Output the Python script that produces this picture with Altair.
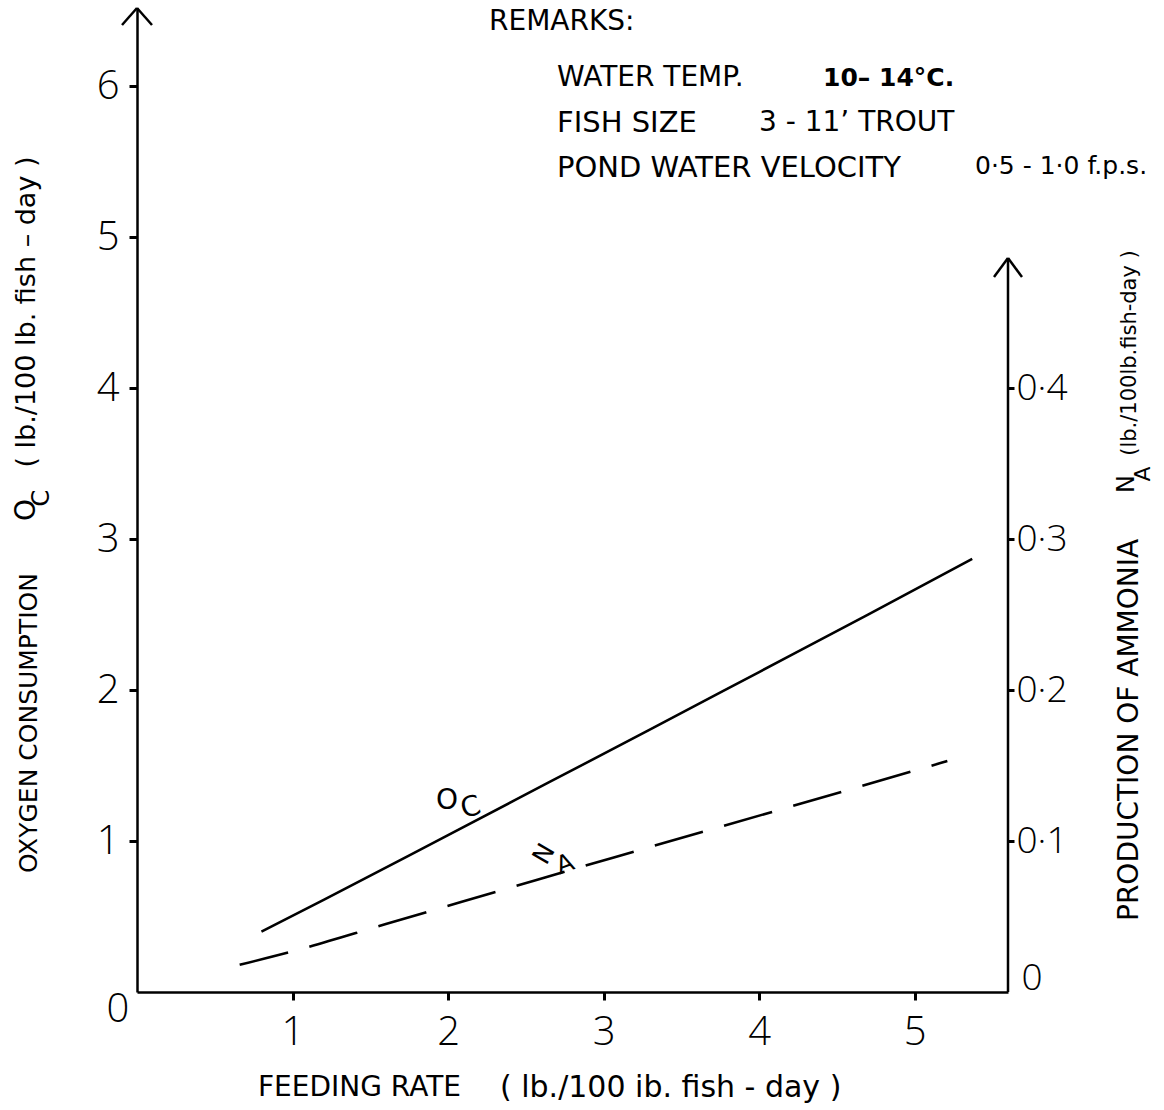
import altair as alt
import pandas as pd

# ---- data ----
feed_oc = [0.8, 1.2, 2.0, 2.65, 3.3, 4.0, 4.7, 5.37]
oxygen = [0.40, 0.61, 1.04, 1.39, 1.74, 2.12, 2.50, 2.87]
feed_na = [0.66, 1.04, 1.6, 2.33, 3.06, 4.14, 5.21]
ammonia = [0.018, 0.028, 0.045, 0.067, 0.089, 0.121, 0.153]

x_ticks = [1, 2, 3, 4, 5]
oc_ticks = [1, 2, 3, 4, 5, 6]
na_ticks = [0.1, 0.2, 0.3, 0.4]

remarks = ["REMARKS:", "WATER TEMP.", "10\u2013 14\u00b0C.", "FISH SIZE", "3 - 11\u2019 TROUT",
           "POND WATER VELOCITY", "0\u00b75 - 1\u00b70 f.p.s."]
x_title = ["FEEDING RATE", "( lb./100 ib. fish - day )"]
left_title = ["OXYGEN CONSUMPTION", "O", "C", "( lb./100 lb. fish \u2013 day )"]
right_title = ["PRODUCTION OF AMMONIA", "N", "A", "(lb./100lb.fish-day )"]

W, H = 871, 984
LET = "DejaVu Sans"
NUM = "Open Sans"

df_oc = pd.DataFrame({"feed": feed_oc, "oc": oxygen})
df_na = pd.DataFrame({"feed": feed_na, "na": ammonia})

x_scale = alt.Scale(domain=[0, 5.6], nice=False, zero=False)
x_axis = alt.Axis(values=x_ticks, title=None, grid=False, tickSize=8, tickWidth=3,
                  domainWidth=2.5, domainColor="black", tickColor="black",
                  labelFontSize=40, labelFont=NUM, labelFontWeight=300,
                  labelPadding=12, labelColor="black", format="d")

oc_line = alt.Chart(df_oc).mark_line(color="black", strokeWidth=2.6, interpolate="monotone").encode(
    x=alt.X("feed:Q", scale=x_scale, axis=x_axis),
    y=alt.Y("oc:Q", scale=alt.Scale(domain=[0, 6.52], nice=False),
            axis=alt.Axis(values=oc_ticks, title=None, grid=False, tickSize=8, tickWidth=3,
                          domainWidth=2.5, domainColor="black", tickColor="black",
                          labelFontSize=40, labelFont=NUM, labelFontWeight=300,
                          labelPadding=10, labelColor="black", format="d")),
)

na_line = alt.Chart(df_na).mark_line(color="black", strokeWidth=2.6, strokeDash=[50, 22],
                                     interpolate="monotone").encode(
    x=alt.X("feed:Q", scale=x_scale, axis=x_axis),
    y=alt.Y("na:Q", scale=alt.Scale(domain=[0, 0.652], nice=False),
            axis=alt.Axis(orient="right", values=na_ticks, title=None, grid=False, domain=False,
                          tickSize=6, tickWidth=3, tickColor="black",
                          labelExpr="replace(format(datum.value, '.1f'), '.', '\u00b7')",
                          labelFontSize=37, labelFont=NUM, labelFontWeight=300,
                          labelPadding=2, labelColor="black")),
)


def rule(x1, y1, x2, y2, w=2.5):
    return alt.Chart(pd.DataFrame({"k": [0]})).mark_rule(color="black", strokeWidth=w).encode(
        x=alt.value(x1), y=alt.value(y1), x2=alt.value(x2), y2=alt.value(y2))


def txt(s, x, y, size=23, angle=0, align="center", font=LET, weight="normal"):
    return alt.Chart(pd.DataFrame({"t": [s]})).mark_text(
        fontSize=size, angle=angle, align=align, baseline="middle", font=font,
        fontWeight=weight, color="black").encode(text="t:N", x=alt.value(x), y=alt.value(y))


decor = [
    # right axis line and arrows
    rule(W, 250, W, H),
    rule(W, 250, W - 14, 269), rule(W, 250, W + 14, 269),
    rule(0, 0, -15, 17), rule(0, 0, 15, 17),
    # origin labels
    txt("0", -19, 1002, size=40, font=NUM, weight=300),
    txt("0", 895, 971, size=37, font=NUM, weight=300),
    # remarks
    txt(remarks[0], 352, 14, size=28, align="left"),
    txt(remarks[1], 420, 70, size=28, align="left"),
    txt(remarks[2], 686, 70, size=25, align="left", weight="bold"),
    txt(remarks[3], 420, 115, size=29, align="left"),
    txt(remarks[4], 622, 115, size=28, align="left"),
    txt(remarks[5], 420, 160, size=29, align="left"),
    txt(remarks[6], 838, 158, size=25, align="left"),
    # curve labels
    txt("O", 310, 793, size=28),
    txt("C", 334, 800, size=28, angle=345),
    txt("N", 407, 846, size=25, angle=300),
    txt("A", 428, 856, size=25, angle=340),
    # x title
    txt(x_title[0], 121, 1080, size=28, align="left"),
    txt(x_title[1], 363, 1080, size=30, align="left"),
    # left title
    txt(left_title[0], -108, 865, size=25, angle=270, align="left"),
    txt(left_title[1], -110, 502, size=28, angle=270),
    txt(left_title[2], -95, 490, size=24, angle=270),
    txt(left_title[3], -110, 304, size=27, angle=270),
    # right title
    txt(right_title[0], 993, 913, size=28, angle=270, align="left"),
    txt(right_title[1], 990, 476, size=24, angle=270),
    txt(right_title[2], 1006, 466, size=22, angle=270),
    txt(right_title[3], 993, 345, size=21, angle=270),
]

chart = alt.layer(oc_line, na_line, *decor).resolve_scale(y="independent").properties(
    width=W, height=H,
    autosize=alt.AutoSizeParams(type="none"),
    padding={"left": 137, "top": 8, "right": 156, "bottom": 118},
    background="white",
).configure_view(stroke=None)

chart.save("out.html", embed_options={"renderer": "svg", "actions": False})
